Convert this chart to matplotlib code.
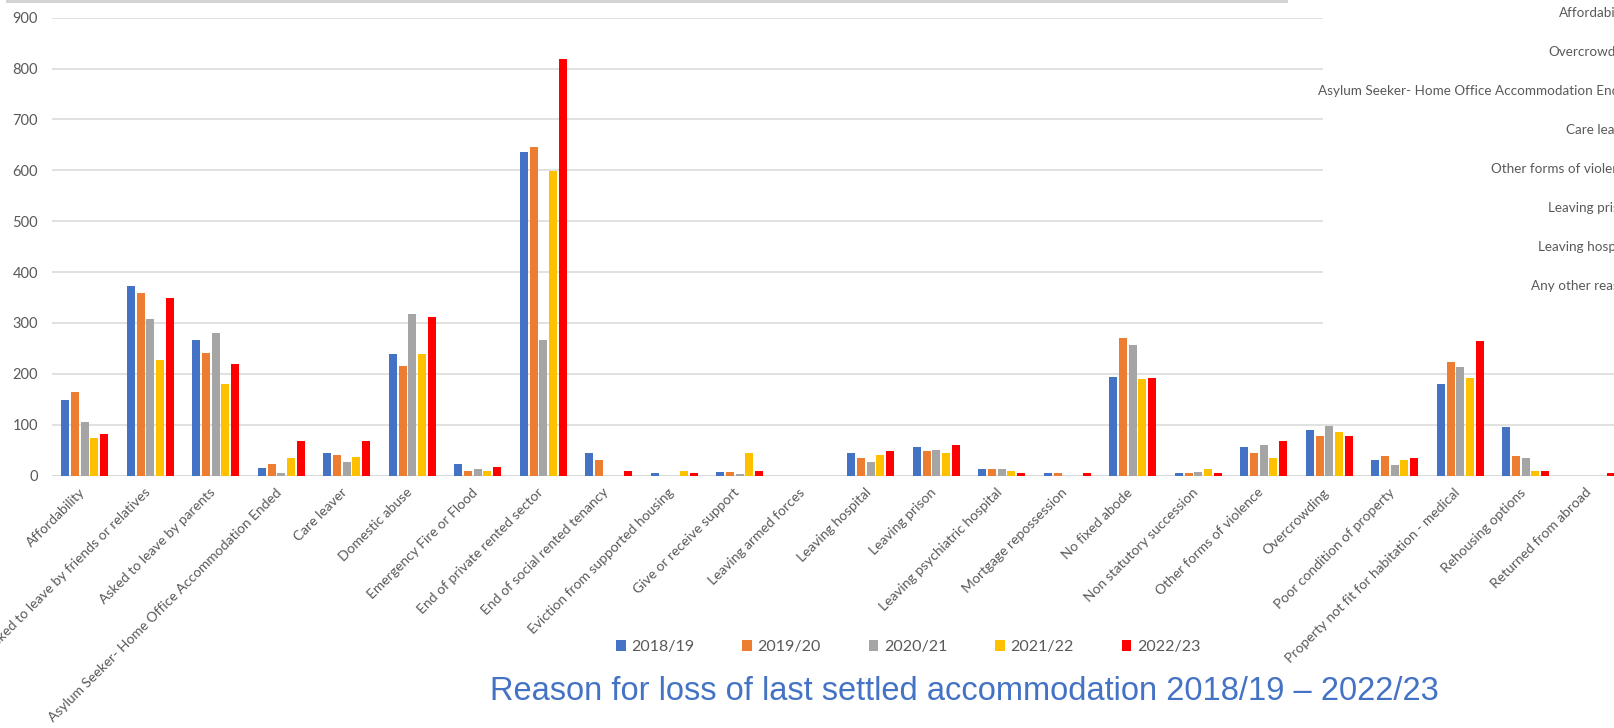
import numpy as np
import matplotlib
matplotlib.use("Agg")
import matplotlib.pyplot as plt
from matplotlib.patches import Rectangle

plt.rcParams['font.family'] = ['Lato', 'DejaVu Sans']

# Reasons (x axis categories)
reasons = [
    "Affordability",
    "Asked to leave by friends or relatives",
    "Asked to leave by parents",
    "Asylum Seeker- Home Office Accommodation Ended",
    "Care leaver",
    "Domestic abuse",
    "Emergency Fire or Flood",
    "End of private rented sector",
    "End of social rented tenancy",
    "Eviction from supported housing",
    "Give or receive support",
    "Leaving armed forces",
    "Leaving hospital",
    "Leaving prison",
    "Leaving psychiatric hospital",
    "Mortgage repossession",
    "No fixed abode",
    "Non statutory succession",
    "Other forms of violence",
    "Overcrowding",
    "Poor condition of property",
    "Property not fit for habitation - medical",
    "Rehousing options",
    "Returned from abroad",
]

years = ["2018/19", "2019/20", "2020/21", "2021/22", "2022/23"]

y2018 = [148, 372, 267, 15, 45, 238, 23, 636, 45, 4, 7, 0, 45, 56, 12, 5, 194, 4, 56, 89, 30, 180, 96, 0]
y2019 = [165, 359, 241, 23, 41, 216, 8, 646, 30, 0, 7, 0, 34, 48, 12, 5, 270, 4, 45, 77, 38, 224, 38, 0]
y2020 = [106, 307, 281, 5, 26, 318, 12, 267, 0, 0, 3, 0, 26, 51, 12, 0, 256, 6, 59, 98, 20, 213, 34, 0]
y2021 = [74, 228, 180, 34, 37, 238, 8, 599, 0, 8, 45, 0, 41, 45, 8, 0, 190, 12, 34, 85, 31, 192, 8, 0]
y2022 = [82, 348, 220, 67, 67, 312, 16, 818, 8, 5, 8, 0, 48, 59, 5, 5, 191, 5, 67, 77, 34, 264, 8, 5]

colors = ['#4472C4', '#ED7D31', '#A5A5A5', '#FFC000', '#FF0000']

# labels of the neighbouring chart that is cut off on the right
side_labels = ["Affordability", "Overcrowding", "Asylum Seeker- Home Office Accommodation Ended",
               "Care leaver", "Other forms of violence", "Leaving prison", "Leaving hospital",
               "Any other reason"]

W, H = 1615, 728
fig = plt.figure(figsize=(W / 100, H / 100), dpi=100)
ax = fig.add_axes([52 / W, 1 - 475.5 / H, (1624 - 52) / W, (475.5 - 17.7) / H])

x = np.arange(len(reasons))
pitch = 0.148
for i, (vals, col, yr) in enumerate(zip([y2018, y2019, y2020, y2021, y2022], colors, years)):
    ax.bar(x + (i - 2) * pitch, vals, width=0.122, color=col, label=yr, zorder=2)

ax.set_xlim(-0.5, len(reasons) - 0.5)
ax.set_ylim(0, 900)
ax.set_yticks(range(0, 901, 100))
ax.grid(axis='y', color='#D9D9D9', linewidth=1.1, zorder=0)
for s in ax.spines.values():
    s.set_visible(False)
ax.axhline(0, color='#D9D9D9', linewidth=1.3, zorder=1)
ax.tick_params(axis='y', length=0, pad=10, labelsize=10.5, labelcolor='#595959')
ax.tick_params(axis='x', length=0, pad=0)

ax.set_xticks(x)
ax.set_xticklabels(reasons, rotation=45, ha='right', va='center', rotation_mode='anchor',
                   fontsize=10, color='#595959')
for lab in ax.get_xticklabels():
    lab.set_transform(lab.get_transform() + matplotlib.transforms.ScaledTranslation(-0.02, -0.15, fig.dpi_scale_trans))

fig.legend(loc='center', bbox_to_anchor=(908 / W, 1 - 647 / H), ncol=5, frameon=False,
           fontsize=11.5, handlelength=0.6, handleheight=0.7, handletextpad=0.35,
           columnspacing=3.0, labelcolor='#595959')

fig.text(964 / W, 1 - 692 / H, "Reason for loss of last settled accommodation 2018/19 \u2013 2022/23",
         ha='center', va='center', fontsize=23.5, color='#4472C4', family='Liberation Sans')

# white panel of the overlapping chart on the right
fig.add_artist(Rectangle((1323 / W, 1 - 333 / H), 1, 333 / H, transform=fig.transFigure,
                         facecolor='white', edgecolor='none', zorder=3))
for k, lab in enumerate(side_labels):
    fig.text(1634 / W, 1 - (13 + k * 39) / H, lab, ha='right', va='center', fontsize=9.7,
             color='#595959', zorder=4)

# thin grey band along the top edge
fig.add_artist(Rectangle((6 / W, 1 - 2.5 / H), (1288 - 6) / W, 2.5 / H, transform=fig.transFigure,
                         facecolor='#D4D4D4', edgecolor='none', zorder=3))

fig.savefig("out.png", dpi=100)
